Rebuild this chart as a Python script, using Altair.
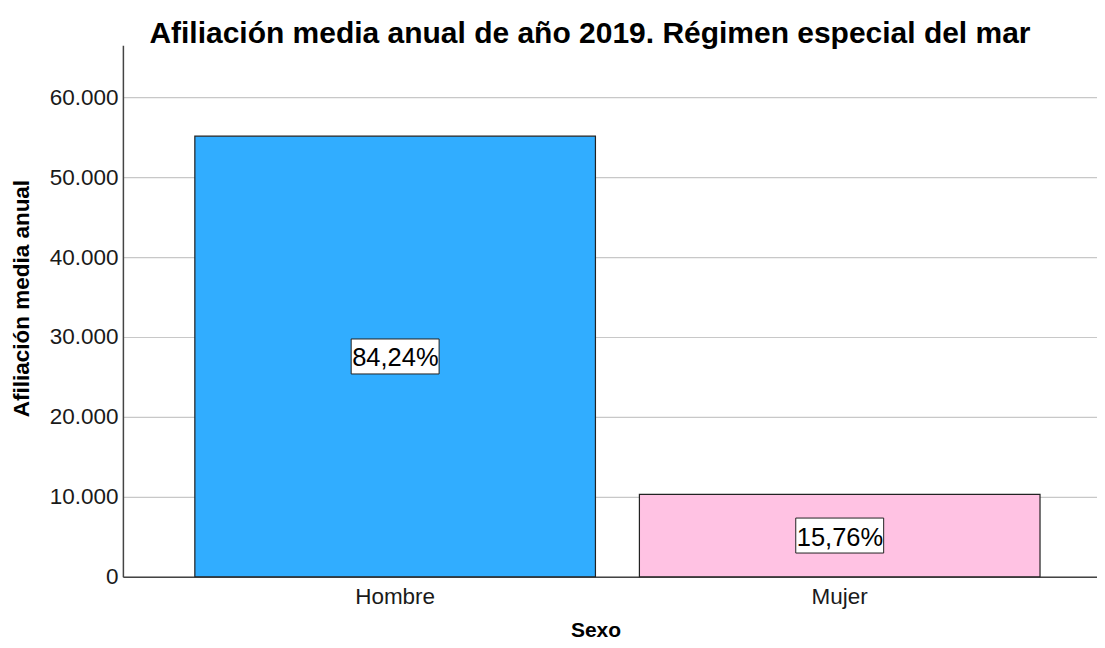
import altair as alt
import pandas as pd

categories = ["Hombre", "Mujer"]
values = [55125, 10315]
percent_labels = ["84,24%", "15,76%"]
bar_colors = ["#31ADFF", "#FFC2E3"]
y_ticks = [0, 10000, 20000, 30000, 40000, 50000, 60000]

df = pd.DataFrame({"Sexo": categories, "valor": values, "pct": percent_labels})
df["mid"] = df["valor"] / 2

FONT = "Liberation Sans"

x_scale = alt.Scale(paddingInner=0.0989, paddingOuter=0.145, align=0.558)

x_enc = alt.X(
    "Sexo:N",
    sort=categories,
    scale=x_scale,
    axis=alt.Axis(
        title="Sexo", titleFont=FONT, titleFontSize=21, titleFontWeight="bold",
        titleColor="#000000", titleY=54, titleX=473, titleBaseline="middle",
        labelFont=FONT, labelFontSize=22.5, labelColor="#1a1a1a", labelAngle=0,
        labelPadding=9, ticks=False, domainColor="#444444", domainWidth=1.5,
        grid=False,
    ),
)

y_scale = alt.Scale(domain=[0, 66500], nice=False, zero=True)

bars = alt.Chart(df).mark_bar(stroke="#222222", strokeWidth=1.2).encode(
    x=x_enc,
    y=alt.Y(
        "valor:Q",
        scale=y_scale,
        axis=alt.Axis(
            title="Afiliación media anual", titleFont=FONT, titleFontSize=22.5,
            titleFontWeight="bold", titleColor="#000000", titleX=-101, titleY=253,
            titleBaseline="middle", titleAngle=270,
            values=y_ticks,
            labelExpr="replace(format(datum.value, ','), ',', '.')",
            labelFont=FONT, labelFontSize=22.5, labelColor="#1a1a1a", labelPadding=5,
            ticks=False, domainColor="#444444", domainWidth=1.5,
            grid=True, gridColor="#c8c8c8", gridWidth=1.2,
        ),
    ),
    color=alt.Color("Sexo:N", scale=alt.Scale(domain=categories, range=bar_colors), legend=None),
)

boxes = alt.Chart(df).mark_point(
    shape="M-1,-0.398L1,-0.398L1,0.398L-1,0.398Z",
    size=7744, filled=True, fill="#ffffff", stroke="#222222", strokeWidth=1, opacity=1,
).encode(
    x=alt.X("Sexo:N", sort=categories, scale=x_scale),
    y=alt.Y("mid:Q", scale=y_scale),
)

texts = alt.Chart(df).mark_text(
    font=FONT, fontSize=25.5, color="#000000", align="left", baseline="middle", dx=-43, dy=2,
).encode(
    x=alt.X("Sexo:N", sort=categories, scale=x_scale),
    y=alt.Y("mid:Q", scale=y_scale),
    text="pct:N",
)

chart = alt.layer(bars, boxes, texts).properties(
    width=975,
    height=532,
    title=alt.TitleParams(
        "Afiliación media anual de año 2019. Régimen especial del mar",
        font=FONT, fontSize=30, fontWeight="bold", color="#000000",
        anchor="middle", dx=-20, offset=-4,
    ),
    autosize=alt.AutoSizeParams(type="none"),
    padding={"left": 115, "top": 37, "right": 0, "bottom": 63},
).configure_view(stroke=None)

chart.save("out.html", embed_options={"renderer": "svg", "actions": False})
